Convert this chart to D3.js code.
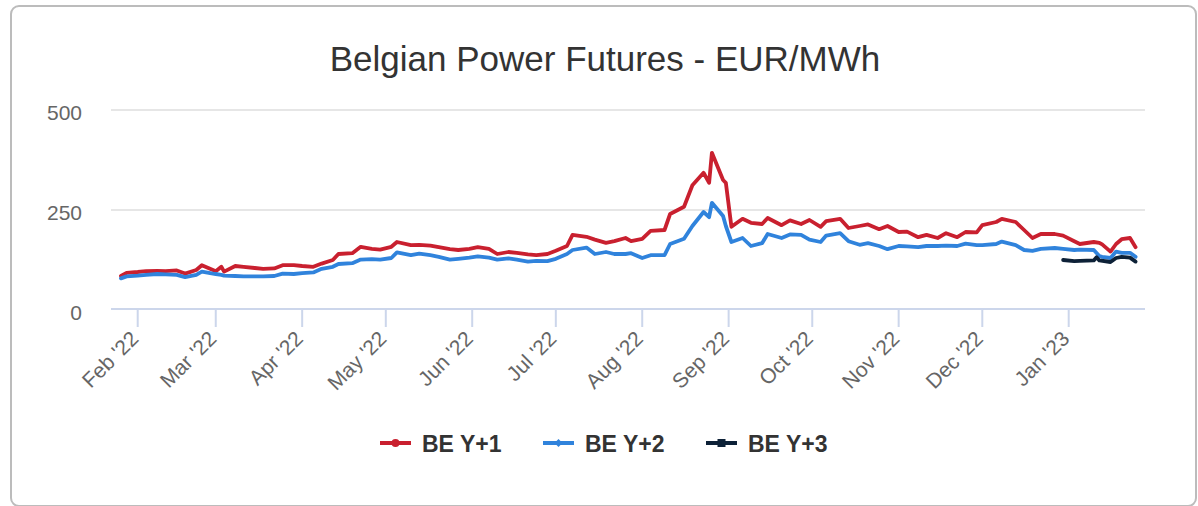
<!DOCTYPE html>
<html><head><meta charset="utf-8">
<script src="https://cdn.jsdelivr.net/npm/d3@7"></script>
<style>
html,body{margin:0;padding:0;background:#fff;}
svg{display:block;font-family:"Liberation Sans",Arial,sans-serif;}
</style></head>
<body>
<svg id="chart" width="1198" height="506"></svg>
<script>
const dates = ["2022-01-26","2022-01-28","2022-02-01","2022-02-04","2022-02-08","2022-02-11","2022-02-15","2022-02-18","2022-02-22","2022-02-24","2022-02-28","2022-03-01","2022-03-03","2022-03-04","2022-03-08","2022-03-11","2022-03-15","2022-03-18","2022-03-22","2022-03-25","2022-03-29","2022-04-01","2022-04-05","2022-04-08","2022-04-12","2022-04-14","2022-04-19","2022-04-22","2022-04-26","2022-04-29","2022-05-03","2022-05-05","2022-05-10","2022-05-13","2022-05-17","2022-05-20","2022-05-24","2022-05-27","2022-05-31","2022-06-03","2022-06-07","2022-06-10","2022-06-14","2022-06-17","2022-06-21","2022-06-24","2022-06-28","2022-07-01","2022-07-05","2022-07-07","2022-07-12","2022-07-15","2022-07-19","2022-07-22","2022-07-26","2022-07-28","2022-08-01","2022-08-04","2022-08-09","2022-08-11","2022-08-16","2022-08-19","2022-08-23","2022-08-25","2022-08-26","2022-08-30","2022-08-31","2022-09-02","2022-09-06","2022-09-09","2022-09-13","2022-09-15","2022-09-20","2022-09-23","2022-09-27","2022-09-30","2022-10-04","2022-10-06","2022-10-11","2022-10-14","2022-10-18","2022-10-21","2022-10-25","2022-10-28","2022-11-01","2022-11-04","2022-11-08","2022-11-11","2022-11-15","2022-11-18","2022-11-22","2022-11-25","2022-11-29","2022-12-01","2022-12-06","2022-12-08","2022-12-13","2022-12-16","2022-12-19","2022-12-22","2022-12-27","2022-12-30","2023-01-03","2023-01-05","2023-01-10","2023-01-12","2023-01-13","2023-01-16","2023-01-18","2023-01-20","2023-01-23","2023-01-25"];
const beY1 = [85,93,95,97,98,97,99,91,100,112,100,97,108,96,110,108,105,103,104,112,112,110,108,116,125,140,142,158,153,151,158,170,162,163,161,157,152,150,153,157,153,140,145,143,139,137,140,148,160,188,183,176,168,172,180,172,178,198,200,240,258,312,343,318,393,325,318,208,228,218,215,230,212,224,215,225,208,222,228,205,210,214,202,210,195,196,182,188,180,192,182,195,194,212,220,228,220,200,180,190,190,186,172,165,170,168,164,146,165,177,180,157];
const beY2 = [79,84,86,88,90,89,88,82,88,96,91,90,88,86,85,84,84,84,85,91,90,92,94,103,108,115,117,126,127,126,130,144,137,141,137,133,126,128,131,134,131,126,129,126,121,123,122,128,140,150,156,140,145,140,140,142,130,137,137,165,178,210,245,232,268,235,210,170,180,160,167,190,180,189,188,176,170,186,192,172,163,167,160,152,160,159,157,160,160,161,160,166,162,162,165,171,162,150,148,153,155,153,150,151,150,135,133,130,146,143,143,133];
const y3Dates = ["2022-12-30","2023-01-03","2023-01-05","2023-01-10","2023-01-11","2023-01-12","2023-01-16","2023-01-18","2023-01-20","2023-01-23","2023-01-25"];
const beY3 = [125,122,123,124,132,124,120,130,133,131,121];
const yTicks = [0,250,500];
const seriesNames = ["BE Y+1","BE Y+2","BE Y+3"];
const colors = ["#c9202f","#3083dc","#0d2137"];

const parse = d3.utcParse("%Y-%m-%d");
const series = [
  {name: seriesNames[0], color: colors[0], pts: dates.map((d,i)=>({d:parse(d), v:beY1[i]}))},
  {name: seriesNames[1], color: colors[1], pts: dates.map((d,i)=>({d:parse(d), v:beY2[i]}))},
  {name: seriesNames[2], color: colors[2], pts: y3Dates.map((d,i)=>({d:parse(d), v:beY3[i]}))}
];

const svg = d3.select("#chart");
// card
svg.append("rect").attr("x",11).attr("y",6).attr("width",1185).attr("height",500)
  .attr("rx",8).attr("fill","#fff").attr("stroke","#bcbcbc").attr("stroke-width",2);

const x = d3.scaleUtc()
  .domain([new Date(Date.UTC(2022,0,22,10)), new Date(Date.UTC(2023,0,28,9))])
  .range([111,1145]);
const y = d3.scaleLinear().domain([0,500]).range([310,110]);

// title
svg.append("text").attr("x",605).attr("y",71).attr("text-anchor","middle")
  .attr("fill","#333").style("font-size","35px").text("Belgian Power Futures - EUR/MWh");

// grid
svg.append("g").selectAll("line").data(yTicks.filter(t=>t>0)).join("line")
  .attr("x1",111).attr("x2",1145).attr("y1",d=>y(d)).attr("y2",d=>y(d))
  .attr("stroke","#e6e6e6").attr("stroke-width",2);

// y labels
svg.append("g").selectAll("text").data(yTicks).join("text")
  .attr("x",82).attr("y",d=>y(d)+10).attr("text-anchor","end")
  .attr("fill","#666").style("font-size","21px").text(d=>d);

// x axis
const months = d3.utcMonth.range(new Date(Date.UTC(2022,1,1)), new Date(Date.UTC(2023,0,2)));
const fmt = d3.utcFormat("%b '%y");
const xa = svg.append("g");
xa.append("line").attr("x1",111).attr("x2",1145).attr("y1",309).attr("y2",309)
  .attr("stroke","#ccd6eb").attr("stroke-width",2);
xa.selectAll("line.tick").data(months).join("line").attr("class","tick")
  .attr("x1",d=>x(d)).attr("x2",d=>x(d)).attr("y1",309).attr("y2",327)
  .attr("stroke","#ccd6eb").attr("stroke-width",2);
xa.selectAll("text").data(months).join("text")
  .attr("transform",d=>`translate(${x(d)+2},${340}) rotate(-45)`)
  .attr("text-anchor","end").attr("fill","#666").style("font-size","21px")
  .text(d=>fmt(d));

// lines
const line = d3.line().x(p=>x(p.d)).y(p=>y(p.v));
svg.append("g").selectAll("path").data(series).join("path")
  .attr("d",s=>line(s.pts)).attr("fill","none").attr("stroke",s=>s.color)
  .attr("stroke-width",3.8).attr("stroke-linejoin","round").attr("stroke-linecap","round");

// legend
const leg = svg.append("g");
const lx = [380,543,706];
series.forEach((s,i)=>{
  const g = leg.append("g").attr("transform",`translate(${lx[i]},443)`);
  g.append("line").attr("x1",0).attr("x2",31).attr("y1",0).attr("y2",0)
    .attr("stroke",s.color).attr("stroke-width",4);
  if(i===0) g.append("circle").attr("cx",15.5).attr("cy",0).attr("r",4).attr("fill",s.color);
  if(i===1) g.append("path").attr("d","M15.5,-4L19.5,0L15.5,4L11.5,0Z").attr("fill",s.color);
  if(i===2) g.append("rect").attr("x",11.5).attr("y",-4).attr("width",8).attr("height",8).attr("fill",s.color);
  g.append("text").attr("x",42).attr("y",8.5).attr("fill","#333")
    .style("font-size","23px").style("font-weight","bold").text(s.name);
});
</script>
</body></html>
